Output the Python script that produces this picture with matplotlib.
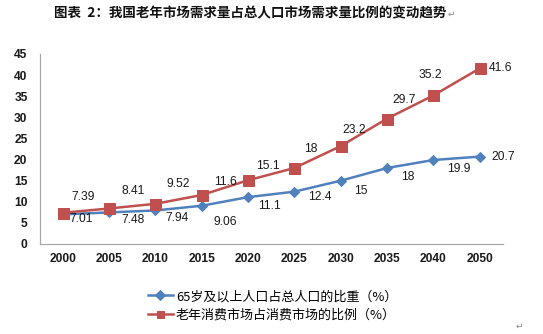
import matplotlib
matplotlib.use("Agg")
import matplotlib.pyplot as plt

years = ["2000", "2005", "2010", "2015", "2020", "2025", "2030", "2035", "2040", "2050"]
elderly_share = [7.01, 7.48, 7.94, 9.06, 11.1, 12.4, 15, 18, 19.9, 20.7]
market_share = [7.39, 8.41, 9.52, 11.6, 15.1, 18, 23.2, 29.7, 35.2, 41.6]
elderly_labels = ["7.01", "7.48", "7.94", "9.06", "11.1", "12.4", "15", "18", "19.9", "20.7"]
market_labels = ["7.39", "8.41", "9.52", "11.6", "15.1", "18", "23.2", "29.7", "35.2", "41.6"]
yticks = [0, 5, 10, 15, 20, 25, 30, 35, 40, 45]
series_names = ["65岁及以上人口占总人口的比重（%）", "老年消费市场占消费市场的比例（%）"]
title = "图表  2：我国老年市场需求量占总人口市场需求量比例的变动趋势"

blue = "#4F81BD"
red = "#C0504D"
CJK = ["Noto Sans CJK SC", "DejaVu Sans"]
NUM = ["Liberation Sans", "DejaVu Sans"]

W, H = 543, 334
fig = plt.figure(figsize=(W / 72, H / 72), dpi=72)
ax = fig.add_axes([39.5 / W, (H - 244) / H, (503 - 39.5) / W, (244 - 54) / H])

x = list(range(len(years)))
l1, = ax.plot(x, elderly_share, color=blue, lw=2.5, marker="D", ms=7,
              markerfacecolor=blue, markeredgecolor=blue, zorder=3)
l2, = ax.plot(x, market_share, color=red, lw=2.5, marker="s", ms=11,
              markerfacecolor=red, markeredgecolor=red, zorder=4)

ax.set_xlim(-0.5, len(years) - 0.5)
ax.set_ylim(0, 45)
ax.set_yticks(yticks)
ax.set_xticks(x)
ax.set_xticklabels(years)
for lab in ax.get_xticklabels() + ax.get_yticklabels():
    lab.set_family(NUM)
    lab.set_fontsize(12)
    lab.set_fontweight("bold")
    lab.set_color("#1a1a1a")
ax.tick_params(axis="both", length=0)
ax.tick_params(axis="y", pad=12)
ax.tick_params(axis="x", pad=9)
for s in ["top", "right"]:
    ax.spines[s].set_visible(False)
for s in ["left", "bottom"]:
    ax.spines[s].set_color("#A6A6A6")
    ax.spines[s].set_linewidth(1.2)

red_off = [(20, 16), (24, 17), (23, 20), (24, 13), (20, 14), (16, 19), (13, 16), (17, 19), (-3, 20), (21, 0)]
blue_off = [(18, -5), (24, -8), (22, -8), (24, -16), (21, -9), (25, -5), (20, -10), (21, -9), (25, -9), (23, 0)]
for i in x:
    ax.annotate(market_labels[i], (i, market_share[i]), xytext=red_off[i], textcoords="offset points",
                ha="center", va="center", fontsize=12, family=NUM, color="#1a1a1a", zorder=5)
    ax.annotate(elderly_labels[i], (i, elderly_share[i]), xytext=blue_off[i], textcoords="offset points",
                ha="center", va="center", fontsize=12, family=NUM, color="#1a1a1a", zorder=5)

fig.text(250 / W, 1 - 13 / H, title, ha="center", va="center", fontsize=13.5,
         fontweight="bold", family=CJK, color="#111111")
fig.text(451 / W, 1 - 14 / H, "↵", ha="center", va="center", fontsize=9,
         family=["DejaVu Sans"], color="#888888")
fig.text(519 / W, 1 - 326 / H, "↵", ha="center", va="center", fontsize=9,
         family=["DejaVu Sans"], color="#888888")

leg = fig.legend([l1, l2], series_names, loc="upper left",
                 bbox_to_anchor=(148 / W, 1 - 290 / H), frameon=False,
                 prop={"family": CJK, "size": 13}, handlelength=1.9,
                 handletextpad=0.25, labelspacing=0.45, borderaxespad=0, borderpad=0)
for h in leg.legend_handles:
    h.set_markersize(7)

fig.savefig("out.png", dpi=72)
